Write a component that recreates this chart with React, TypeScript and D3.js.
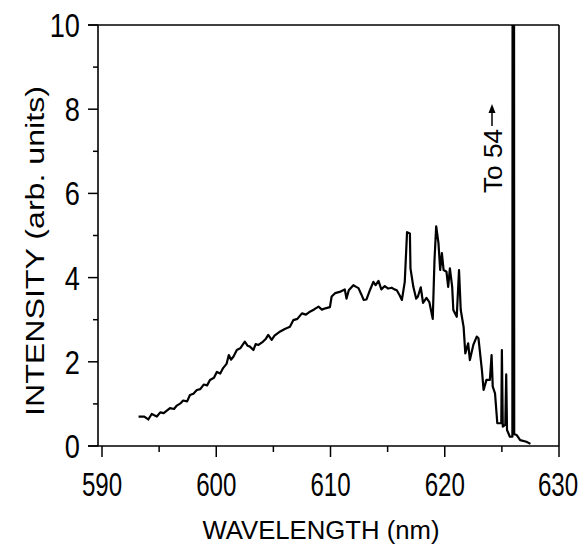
import React from "react";
import * as d3 from "d3";

const wavelength = [
  593.2, 593.7, 594.05, 594.35, 594.8, 595.1, 595.4, 595.95, 596.3, 596.55, 596.9, 597.1, 597.45, 597.7,
  598.0, 598.3, 598.6, 598.9, 599.2, 599.45, 599.8, 600.05, 600.35, 600.6, 600.9, 601.1, 601.3, 601.5,
  601.8, 602.1, 602.5, 602.75, 602.95, 603.25, 603.45, 603.7, 604.1, 604.35, 604.55, 604.85, 605.1, 605.6,
  606.0, 606.45, 606.75, 607.1, 607.5, 607.85, 608.2, 608.6, 608.95, 609.25, 609.55, 609.95, 610.1, 610.4,
  610.8, 611.25, 611.4, 611.6, 612.0, 612.25, 612.45, 612.7, 612.9, 613.15, 613.45, 613.75, 613.95, 614.2,
  614.45, 614.75, 615.05, 615.35, 615.6, 615.8, 616.05, 616.25, 616.5, 616.7, 616.95, 617.0, 617.25, 617.5,
  617.65, 617.9, 618.1, 618.4, 618.65, 618.95, 619.1, 619.25, 619.45, 619.6, 619.75, 619.9, 620.15, 620.3,
  620.45, 620.65, 620.75, 621.05, 621.25, 621.4, 621.65, 621.8, 622.05, 622.2, 622.5, 622.8, 622.95, 623.25,
  623.4, 623.65, 623.95, 624.1, 624.2, 624.4, 624.6, 624.95, 625.0, 625.08, 625.3, 625.38, 625.45, 625.7,
  625.92, 626.0, 626.08, 626.3, 626.6, 627.15, 627.5,
];
const intensity = [
  0.7, 0.7, 0.63, 0.76, 0.7, 0.8, 0.78, 0.9, 0.88, 0.96, 1.02, 1.08, 1.06, 1.21,
  1.24, 1.33, 1.35, 1.46, 1.44, 1.57, 1.62, 1.76, 1.72, 1.85, 1.95, 2.16, 2.05, 2.12,
  2.28, 2.32, 2.48, 2.38, 2.36, 2.28, 2.42, 2.4, 2.48, 2.55, 2.64, 2.52, 2.62, 2.72,
  2.78, 2.83, 2.99, 3.02, 3.15, 3.12, 3.19, 3.25, 3.31, 3.24, 3.27, 3.3, 3.55, 3.63,
  3.66, 3.72, 3.5, 3.7, 3.82, 3.78, 3.75, 3.6, 3.47, 3.48, 3.7, 3.9, 3.82, 3.92,
  3.72, 3.8, 3.74, 3.76, 3.72, 3.7, 3.58, 3.47, 3.9, 5.08, 5.05, 4.22, 3.78, 3.5,
  3.55, 3.77, 3.4, 3.52, 3.42, 3.02, 4.4, 5.22, 4.82, 4.18, 4.58, 4.18, 4.14, 3.78,
  4.22, 3.78, 3.23, 3.07, 4.18, 3.23, 2.83, 2.2, 2.44, 2.04, 2.4, 2.6, 2.56, 1.81,
  1.33, 1.57, 1.57, 2.16, 1.41, 1.25, 0.54, 0.54, 2.28, 0.46, 0.5, 1.7, 0.38, 0.22,
  0.22, 54, 0.28, 0.26, 0.14, 0.1, 0.05,
];

const xMajor = [590, 600, 610, 620, 630];
const xMinor = [595, 605, 615, 625];
const yMajor = [0, 2, 4, 6, 8, 10];
const yMinor = [1, 3, 5, 7, 9];

const xTitle = "WAVELENGTH (nm)";
const yTitle = "INTENSITY (arb. units)";
const note = "To 54";

export default function App() {
  const W = 581;
  const left = 102;
  const right = 559;
  const top = 25;
  const bottom = 446;
  const x = d3.scaleLinear().domain([590, 630]).range([left, right]);
  const y = d3.scaleLinear().domain([0, 10]).range([bottom, top]);
  const pts: [number, number][] = wavelength.map((w, i) => [w, intensity[i]]);
  const line = d3
    .line<[number, number]>()
    .x((d) => x(d[0]))
    .y((d) => y(d[1]));
  const font = "'Liberation Sans', Arial, sans-serif";
  const axisX = left - 4;
  const sx = 0.71;

  return (
    <svg
      width={W}
      height={546}
      style={{ display: "block", position: "absolute", left: 0, top: 0, background: "#fff" }}
    >
      <defs>
        <clipPath id="plot">
          <rect x={axisX} y={top} width={right - axisX} height={bottom - top} />
        </clipPath>
      </defs>
      {/* frame */}
      <line x1={axisX - 10} x2={right} y1={top} y2={top} stroke="#000" strokeWidth={1.6} />
      <line x1={right} x2={right} y1={top} y2={bottom} stroke="#000" strokeWidth={1.6} />
      <line x1={axisX - 10} x2={right} y1={bottom} y2={bottom} stroke="#000" strokeWidth={1.6} />
      <line x1={axisX} x2={axisX} y1={top} y2={bottom} stroke="#000" strokeWidth={1.6} />
      {/* x ticks */}
      {xMajor.map((t) => (
        <g key={"xm" + t}>
          <line x1={x(t)} x2={x(t)} y1={bottom} y2={bottom + 11} stroke="#000" strokeWidth={1.5} />
          <text
            transform={`translate(${Math.min(x(t), W - 23)},496) scale(${sx},1)`}
            textAnchor="middle"
            fontFamily={font}
            fontSize={34}
          >
            {t}
          </text>
        </g>
      ))}
      {xMinor.map((t) => (
        <line key={"xn" + t} x1={x(t)} x2={x(t)} y1={bottom} y2={bottom + 6} stroke="#000" strokeWidth={1.5} />
      ))}
      {/* y ticks */}
      {yMajor.map((t) => (
        <g key={"ym" + t}>
          <line x1={axisX - 10} x2={axisX} y1={y(t)} y2={y(t)} stroke="#000" strokeWidth={1.5} />
          <text
            transform={`translate(80,${y(t) + 12}) scale(0.8,1)`}
            textAnchor="end"
            fontFamily={font}
            fontSize={34}
          >
            {t}
          </text>
        </g>
      ))}
      {yMinor.map((t) => (
        <line key={"yn" + t} x1={axisX - 5} x2={axisX} y1={y(t)} y2={y(t)} stroke="#000" strokeWidth={1.5} />
      ))}
      {/* titles */}
      <text
        x={321}
        y={539}
        textAnchor="middle"
        fontFamily={font}
        fontSize={25}
        textLength={237}
        lengthAdjust="spacingAndGlyphs"
      >
        {xTitle}
      </text>
      <text
        transform="translate(44,251) rotate(-90)"
        textAnchor="middle"
        fontFamily={font}
        fontSize={26}
        textLength={330}
        lengthAdjust="spacingAndGlyphs"
      >
        {yTitle}
      </text>
      {/* annotation */}
      <text
        transform="translate(502,193) rotate(-90)"
        textAnchor="start"
        fontFamily={font}
        fontSize={26}
        textLength={64}
        lengthAdjust="spacingAndGlyphs"
      >
        {note}
      </text>
      <line x1={492} x2={492} y1={126} y2={111} stroke="#000" strokeWidth={1.5} />
      <path d="M492,104 L488.5,113 L495.5,113 Z" fill="#000" />
      {/* spectrum */}
      <g clipPath="url(#plot)">
        <path d={line(pts) ?? ""} fill="none" stroke="#000" strokeWidth={2.2} strokeLinejoin="round" />
      </g>
    </svg>
  );
}
